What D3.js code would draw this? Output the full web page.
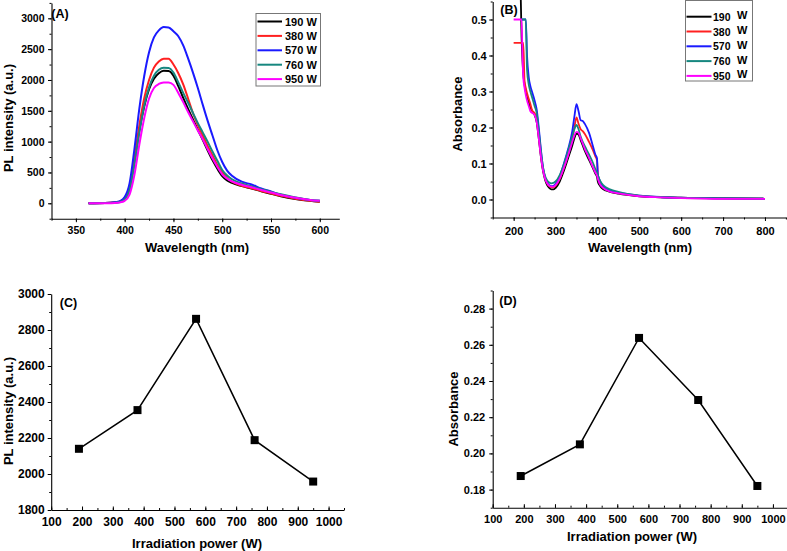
<!DOCTYPE html>
<html><head><meta charset="utf-8">
<script src="https://cdn.jsdelivr.net/npm/d3@7"></script>
<style>
body{margin:0;background:#fff}
svg{display:block}
text{font-family:"Liberation Sans",Arial,sans-serif;font-weight:bold;fill:#000}
</style>
</head><body>
<svg id="chart" width="787" height="551"></svg>
<script>
// ---------------- DATA ----------------
const powers = [190, 380, 570, 760, 950];
const seriesNames = ["190", "380", "570", "760", "950"];
const seriesColors = ["#000000", "#ff2020", "#1a1aff", "#16877f", "#ff00ff"];

// (A) PL spectra
const wlA = [363,380,390,395,400,405,410,415,420,425,430,435,440,445,450,455,460,465,470,475,480,485,490,495,500,505,510,520,530,540,550,560,575,590,600];
const pl190 = [0,3,12,28,80,250,680,1180,1570,1850,2020,2110,2148,2145,2070,1900,1710,1530,1360,1190,1030,860,700,560,440,370,330,280,240,195,155,115,70,40,25];
const pl380 = [0,3,12,28,80,260,720,1260,1700,2000,2200,2300,2345,2345,2250,2110,1930,1700,1460,1270,1100,930,780,620,500,410,350,285,245,200,160,120,75,40,25];
const pl570 = [0,3,15,35,100,320,880,1530,2060,2450,2690,2805,2858,2852,2790,2710,2560,2350,2120,1870,1600,1340,1100,860,670,530,445,350,305,240,190,140,90,55,40];
const pl760 = [0,3,10,22,60,210,620,1140,1580,1880,2070,2165,2198,2195,2120,1960,1790,1630,1465,1300,1150,1000,840,690,540,450,390,320,275,230,185,145,95,55,40];
const pl950 = [0,2,6,14,40,140,460,950,1380,1700,1870,1935,1958,1960,1920,1790,1640,1480,1330,1180,1040,880,730,590,470,400,355,300,260,215,175,135,90,55,40];

// (B) absorbance spectra
const wlB = [200,217,219,221,223,226,229,232,236,240,245,250,255,260,265,270,275,280,285,290,295,300,310,320,330,340,345,350,355,360,365,370,380,390,395,399,401,405,410,420,430,450,500,550,600,700,800];
const abs190 = [null,0.56,0.45,0.39,0.35,0.32,0.30,0.285,0.27,0.255,0.245,0.235,0.215,0.17,0.12,0.08,0.055,0.04,0.032,0.028,0.028,0.032,0.05,0.08,0.115,0.15,0.17,0.183,0.18,0.165,0.15,0.135,0.11,0.085,0.072,0.063,0.05,0.04,0.032,0.025,0.021,0.016,0.009,0.006,0.004,0.003,0.002];
const abs380 = [0.435,0.435,0.435,0.435,0.435,0.33,0.31,0.295,0.28,0.265,0.245,0.24,0.225,0.18,0.125,0.085,0.06,0.045,0.037,0.034,0.034,0.038,0.057,0.088,0.125,0.17,0.2,0.228,0.21,0.195,0.19,0.182,0.16,0.135,0.12,0.108,0.07,0.05,0.038,0.028,0.023,0.018,0.01,0.007,0.005,0.003,0.002];
const abs570 = [null,null,0.5,0.5,0.5,0.5,0.5,0.4,0.34,0.315,0.295,0.275,0.25,0.2,0.14,0.09,0.062,0.048,0.04,0.037,0.038,0.043,0.065,0.1,0.14,0.19,0.23,0.265,0.245,0.22,0.218,0.21,0.185,0.145,0.125,0.115,0.07,0.055,0.042,0.03,0.025,0.019,0.011,0.007,0.005,0.003,0.002];
const abs760 = [null,0.5,0.5,0.5,0.5,0.5,0.5,0.36,0.32,0.3,0.28,0.26,0.24,0.19,0.135,0.09,0.065,0.053,0.047,0.045,0.046,0.05,0.068,0.098,0.135,0.175,0.195,0.207,0.195,0.175,0.16,0.148,0.125,0.1,0.085,0.075,0.068,0.055,0.045,0.034,0.028,0.021,0.011,0.007,0.005,0.003,0.002];
const abs950 = [0.5,0.5,0.5,0.40,0.34,0.31,0.29,0.275,0.26,0.245,0.24,0.235,0.215,0.17,0.12,0.082,0.058,0.045,0.038,0.036,0.036,0.04,0.058,0.088,0.122,0.16,0.178,0.188,0.185,0.17,0.155,0.14,0.115,0.088,0.075,0.066,0.058,0.045,0.036,0.027,0.022,0.017,0.009,0.006,0.004,0.002,0.002];

// (C) peak PL intensity and (D) peak absorbance vs irradiation power
const plPeak = [2140, 2355, 2862, 2188, 1958];
const absPeak = [0.1875, 0.205, 0.2638, 0.2295, 0.182];

// tick values
const ticksAx = [350,400,450,500,550,600];
const ticksAy = [0,500,1000,1500,2000,2500,3000];
const ticksBx = [200,300,400,500,600,700,800];
const ticksBy = [0.0,0.1,0.2,0.3,0.4,0.5];
const ticksCDx = [100,200,300,400,500,600,700,800,900,1000];
const ticksCy = [1800,2000,2200,2400,2600,2800,3000];
const ticksDy = [0.18,0.20,0.22,0.24,0.26,0.28];

// ---------------- DRAW ----------------
const svg = d3.select("#chart");

function range(a, b, s) { const r = []; for (let v = a; v <= b + 1e-9; v += s) r.push(+v.toFixed(6)); return r; }

function panel(o) {
  const x = d3.scaleLinear().domain(o.xd).range(o.xr);
  const y = d3.scaleLinear().domain(o.yd).range(o.yr);
  const g = svg.append("g");
  const y0 = o.yr[0], x0 = o.xr[0];
  // minor ticks
  g.append("g").attr("transform", `translate(0,${y0})`)
    .call((o.xIn ? d3.axisTop(x) : d3.axisBottom(x)).tickValues(o.xMinor).tickFormat("").tickSize(2).tickSizeOuter(0))
    .call(s => s.select(".domain").remove());
  g.append("g").attr("transform", `translate(${x0},0)`)
    .call(d3.axisLeft(y).tickValues(o.yMinor).tickFormat("").tickSize(2).tickSizeOuter(0))
    .call(s => s.select(".domain").remove());
  // major
  const gx = g.append("g").attr("transform", `translate(0,${y0})`)
    .call((o.xIn ? d3.axisTop(x) : d3.axisBottom(x)).tickValues(o.xTicks).tickFormat(o.xFmt).tickSize(3.5).tickSizeOuter(0));
  gx.selectAll("text").attr("y", o.xLab).attr("dy", null).style("font-size", o.fs + "px");
  const gy = g.append("g").attr("transform", `translate(${x0},0)`)
    .call(d3.axisLeft(y).tickValues(o.yTicks).tickFormat(o.yFmt).tickSize(3.5).tickSizeOuter(0));
  gy.selectAll("text").attr("x", o.yLab).style("font-size", o.fs + "px");
  g.selectAll(".domain").attr("stroke", "#000").attr("stroke-width", 1.1);
  g.selectAll(".tick line").attr("stroke", "#000").attr("stroke-width", 1);
  return { x, y, g };
}

// ---- Panel A ----
const A = panel({ xd: [325, 620], xr: [51.5, 339.3], yd: [-250, 3250], yr: [218.7, 2.9],
  xTicks: ticksAx, xMinor: range(325, 620, 25), yTicks: ticksAy, yMinor: range(-250, 3250, 250),
  xFmt: d3.format("d"), yFmt: d3.format("d"), xLab: 15, yLab: -7, fs: 10.5 });
[pl190, pl380, pl570, pl760, pl950].forEach((s, i) => {
  const line = d3.line().x((d, j) => A.x(wlA[j])).y(d => A.y(d)).curve(d3.curveMonotoneX);
  svg.append("path").datum(s).attr("d", line).attr("fill", "none")
    .attr("stroke", seriesColors[i]).attr("stroke-width", 2);
});
// legend A
svg.append("rect").attr("x", 256).attr("y", 13.5).attr("width", 64.5).attr("height", 72.5)
  .attr("fill", "#fff").attr("stroke", "#777").attr("stroke-width", 1);
seriesNames.forEach((n, i) => {
  const cy = 21.5 + i * 14.4;
  svg.append("line").attr("x1", 257.5).attr("x2", 282).attr("y1", cy).attr("y2", cy)
    .attr("stroke", seriesColors[i]).attr("stroke-width", 2);
  svg.append("text").attr("x", 285).attr("y", cy + 4).style("font-size", "11px").text(n + " W");
});
svg.append("text").attr("x", 60).attr("y", 17.5).attr("text-anchor", "middle").style("font-size", "12.5px").text("(A)");
svg.append("text").attr("x", 197).attr("y", 252).attr("text-anchor", "middle").style("font-size", "13px").text("Wavelength (nm)");
svg.append("text").attr("transform", "translate(12.5,118) rotate(-90)").attr("text-anchor", "middle").style("font-size", "13px").text("PL intensity (a.u.)");

// ---- Panel B ----
const B = panel({ xd: [150, 850], xr: [492.7, 785.9], yd: [-0.05, 0.55], yr: [217.5, 1.5],
  xTicks: ticksBx, xMinor: range(150, 850, 50), yTicks: ticksBy, yMinor: range(-0.05, 0.55, 0.05),
  xFmt: d3.format("d"), yFmt: d3.format(".1f"), xLab: 17.5, yLab: -6, fs: 11 });
[abs190, abs380, abs570, abs760, abs950].forEach((s, i) => {
  const line = d3.line().defined(d => d !== null).x((d, j) => B.x(wlB[j])).y(d => B.y(d)).curve(d3.curveMonotoneX);
  svg.append("path").datum(s).attr("d", line).attr("fill", "none")
    .attr("stroke", seriesColors[i]).attr("stroke-width", 1.8);
});
svg.append("rect").attr("x", 685.5).attr("y", 0.5).attr("width", 67).attr("height", 80.5)
  .attr("fill", "#fff").attr("stroke", "#777").attr("stroke-width", 1);
seriesNames.forEach((n, i) => {
  const cy = 16.7 + i * 14.8;
  svg.append("line").attr("x1", 686.5).attr("x2", 711.5).attr("y1", cy).attr("y2", cy)
    .attr("stroke", seriesColors[i]).attr("stroke-width", 2);
  svg.append("text").attr("x", 713).attr("y", cy + 4).style("font-size", "10.5px").text(n);
  svg.append("text").attr("x", 737).attr("y", cy + 2.5).style("font-size", "11px").text("W");
});
svg.append("text").attr("x", 509).attr("y", 14).attr("text-anchor", "middle").style("font-size", "12.5px").text("(B)");
svg.append("text").attr("x", 640).attr("y", 252).attr("text-anchor", "middle").style("font-size", "13px").text("Wavelength (nm)");
svg.append("text").attr("transform", "translate(462,114) rotate(-90)").attr("text-anchor", "middle").style("font-size", "13px").text("Absorbance");

// ---- Panel C ----
const C = panel({ xd: [100, 1050], xr: [51.2, 344], yd: [1800, 3000], yr: [510, 294],
  xTicks: ticksCDx, xMinor: range(100, 1050, 50), yTicks: ticksCy, yMinor: range(1800, 3000, 100),
  xFmt: d3.format("d"), yFmt: d3.format("d"), xLab: 16, yLab: -6.5, fs: 12, xIn: true });
C.g.selectAll("g text").filter(function(){ return this.parentNode && d3.select(this.parentNode.parentNode).attr("transform") === "translate(0,510)"; })
  .attr("y", 16);
svg.append("path").datum(plPeak)
  .attr("d", d3.line().x((d, i) => C.x(powers[i])).y(d => C.y(d)))
  .attr("fill", "none").attr("stroke", "#000").attr("stroke-width", 1.5);
svg.selectAll(".sqC").data(plPeak).enter().append("rect")
  .attr("x", (d, i) => C.x(powers[i]) - 4).attr("y", d => C.y(d) - 4)
  .attr("width", 8).attr("height", 8).attr("fill", "#000");
svg.append("text").attr("x", 68.5).attr("y", 307).attr("text-anchor", "middle").style("font-size", "12.5px").text("(C)");
svg.append("text").attr("x", 197).attr("y", 548).attr("text-anchor", "middle").style("font-size", "13px").text("Irradiation power (W)");
svg.append("text").attr("transform", "translate(12.5,411) rotate(-90)").attr("text-anchor", "middle").style("font-size", "13px").text("PL intensity (a.u.)");

// ---- Panel D ----
const D = panel({ xd: [100, 1050], xr: [492.7, 788.5], yd: [0.17, 0.29], yr: [507.7, 290.5],
  xTicks: ticksCDx, xMinor: range(100, 1050, 50), yTicks: ticksDy, yMinor: range(0.17, 0.29, 0.01),
  xFmt: d3.format("d"), yFmt: d3.format(".2f"), xLab: 15.5, yLab: -7.5, fs: 11, xIn: true });
svg.append("path").datum(absPeak)
  .attr("d", d3.line().x((d, i) => D.x(powers[i])).y(d => D.y(d)))
  .attr("fill", "none").attr("stroke", "#000").attr("stroke-width", 1.5);
svg.selectAll(".sqD").data(absPeak).enter().append("rect")
  .attr("x", (d, i) => D.x(powers[i]) - 4).attr("y", d => D.y(d) - 4)
  .attr("width", 8).attr("height", 8).attr("fill", "#000");
svg.append("text").attr("x", 508).attr("y", 305).attr("text-anchor", "middle").style("font-size", "12.5px").text("(D)");
svg.append("text").attr("x", 632).attr("y", 541).attr("text-anchor", "middle").style("font-size", "13px").text("Irradiation power (W)");
svg.append("text").attr("transform", "translate(458,409) rotate(-90)").attr("text-anchor", "middle").style("font-size", "13px").text("Absorbance");
</script>
</body></html>
